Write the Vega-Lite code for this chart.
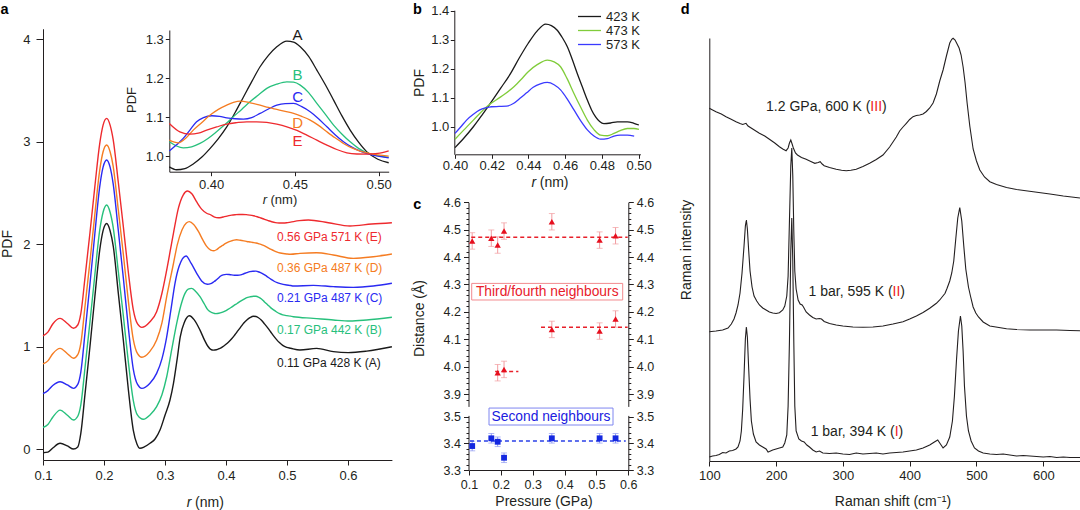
{
"$schema": "https://vega.github.io/schema/vega-lite/v6.json",
"width": 1080, "height": 510, "padding": 0, "autosize": {"type": "none"},
"background": "white",
"config": {
  "font": "Liberation Sans",
  "view": {"stroke": null},
  "axis": {"grid": false, "labelFont": "Liberation Sans", "labelFontSize": 13, "labelColor": "#231f20", "domainColor": "#231f20", "tickColor": "#231f20", "labelFlush": false, "labelOverlap": false, "labelBound": false, "domainWidth": 1, "tickWidth": 1}
},
"datasets": {
  "pdf": [
    {"s":"A","r":0.100,"g":-0.036},{"s":"A","r":0.108,"g":-0.03},{"s":"A","r":0.116,"g":0.01},{"s":"A","r":0.128,"g":0.056},{"s":"A","r":0.140,"g":0.03},{"s":"A","r":0.150,"g":0.0},{"s":"A","r":0.157,"g":0.02},{"s":"A","r":0.162,"g":0.153},{"s":"A","r":0.169,"g":0.543},{"s":"A","r":0.177,"g":1.0},{"s":"A","r":0.185,"g":1.486},{"s":"A","r":0.193,"g":1.94},{"s":"A","r":0.1985,"g":2.13},{"s":"A","r":0.2044,"g":2.2},{"s":"A","r":0.210,"g":2.13},{"s":"A","r":0.2153,"g":1.974},{"s":"A","r":0.2235,"g":1.519},{"s":"A","r":0.2317,"g":1.063},{"s":"A","r":0.240,"g":0.576},{"s":"A","r":0.248,"g":0.185},{"s":"A","r":0.254,"g":0.05},{"s":"A","r":0.259,"g":0.007},{"s":"A","r":0.266,"g":0.02},{"s":"A","r":0.2754,"g":0.056},{"s":"A","r":0.284,"g":0.10},{"s":"A","r":0.2918,"g":0.185},{"s":"A","r":0.300,"g":0.33},{"s":"A","r":0.3082,"g":0.478},{"s":"A","r":0.3139,"g":0.64},{"s":"A","r":0.320,"g":0.88},{"s":"A","r":0.325,"g":1.095},{"s":"A","r":0.332,"g":1.24},{"s":"A","r":0.340,"g":1.30},{"s":"A","r":0.348,"g":1.26},{"s":"A","r":0.3574,"g":1.16},{"s":"A","r":0.365,"g":1.06},{"s":"A","r":0.370,"g":1.005},
    {"s":"A","r":0.375,"g":0.9725},{"s":"A","r":0.3793,"g":0.965},{"s":"A","r":0.3843,"g":0.968},{"s":"A","r":0.3893,"g":0.98},{"s":"A","r":0.3943,"g":0.997},{"s":"A","r":0.3994,"g":1.02},{"s":"A","r":0.4043,"g":1.045},{"s":"A","r":0.4093,"g":1.075},{"s":"A","r":0.4143,"g":1.112},{"s":"A","r":0.4193,"g":1.152},{"s":"A","r":0.4243,"g":1.192},{"s":"A","r":0.4292,"g":1.2296},{"s":"A","r":0.4342,"g":1.259},{"s":"A","r":0.4392,"g":1.281},{"s":"A","r":0.4452,"g":1.2956},{"s":"A","r":0.4492,"g":1.293},{"s":"A","r":0.4532,"g":1.281},{"s":"A","r":0.4582,"g":1.256},{"s":"A","r":0.4631,"g":1.221},{"s":"A","r":0.4681,"g":1.184},{"s":"A","r":0.4731,"g":1.144},{"s":"A","r":0.478,"g":1.104},{"s":"A","r":0.483,"g":1.067},{"s":"A","r":0.488,"g":1.036},{"s":"A","r":0.493,"g":1.011},{"s":"A","r":0.4995,"g":0.992},{"s":"A","r":0.506,"g":0.983},{"s":"A","r":0.5213,"g":0.966},{"s":"A","r":0.5486,"g":0.982},{"s":"A","r":0.576,"g":0.95},{"s":"A","r":0.6005,"g":0.94},{"s":"A","r":0.6306,"g":0.955},{"s":"A","r":0.672,"g":0.998},

    {"s":"B","r":0.100,"g":0.21},{"s":"B","r":0.108,"g":0.24},{"s":"B","r":0.116,"g":0.31},{"s":"B","r":0.128,"g":0.38},{"s":"B","r":0.140,"g":0.33},{"s":"B","r":0.150,"g":0.283},{"s":"B","r":0.157,"g":0.32},{"s":"B","r":0.162,"g":0.43},{"s":"B","r":0.169,"g":0.80},{"s":"B","r":0.177,"g":1.24},{"s":"B","r":0.185,"g":1.70},{"s":"B","r":0.193,"g":2.135},{"s":"B","r":0.1985,"g":2.31},{"s":"B","r":0.2044,"g":2.38},{"s":"B","r":0.210,"g":2.31},{"s":"B","r":0.215,"g":2.165},{"s":"B","r":0.2235,"g":1.73},{"s":"B","r":0.2317,"g":1.30},{"s":"B","r":0.240,"g":0.845},{"s":"B","r":0.248,"g":0.475},{"s":"B","r":0.255,"g":0.33},{"s":"B","r":0.2644,"g":0.29},{"s":"B","r":0.275,"g":0.33},{"s":"B","r":0.2863,"g":0.413},{"s":"B","r":0.295,"g":0.53},{"s":"B","r":0.3028,"g":0.705},{"s":"B","r":0.311,"g":0.97},{"s":"B","r":0.3192,"g":1.226},{"s":"B","r":0.326,"g":1.40},{"s":"B","r":0.3328,"g":1.519},{"s":"B","r":0.338,"g":1.56},{"s":"B","r":0.3437,"g":1.567},{"s":"B","r":0.350,"g":1.54},{"s":"B","r":0.3574,"g":1.486},{"s":"B","r":0.365,"g":1.41},{"s":"B","r":0.370,"g":1.36},
    {"s":"B","r":0.375,"g":1.337},{"s":"B","r":0.3793,"g":1.326},{"s":"B","r":0.3833,"g":1.3214},{"s":"B","r":0.3883,"g":1.324},{"s":"B","r":0.3933,"g":1.3326},{"s":"B","r":0.3983,"g":1.346},{"s":"B","r":0.4032,"g":1.3626},{"s":"B","r":0.4082,"g":1.381},{"s":"B","r":0.4132,"g":1.401},{"s":"B","r":0.4182,"g":1.42},{"s":"B","r":0.4232,"g":1.4397},{"s":"B","r":0.4282,"g":1.457},{"s":"B","r":0.4332,"g":1.474},{"s":"B","r":0.4392,"g":1.485},{"s":"B","r":0.4452,"g":1.491},{"s":"B","r":0.4492,"g":1.490},{"s":"B","r":0.4532,"g":1.4825},{"s":"B","r":0.4582,"g":1.463},{"s":"B","r":0.4631,"g":1.4354},{"s":"B","r":0.4681,"g":1.408},{"s":"B","r":0.4731,"g":1.3797},{"s":"B","r":0.478,"g":1.357},{"s":"B","r":0.483,"g":1.3368},{"s":"B","r":0.488,"g":1.32},{"s":"B","r":0.493,"g":1.3086},{"s":"B","r":0.4995,"g":1.301},{"s":"B","r":0.506,"g":1.2966},{"s":"B","r":0.5104,"g":1.29},{"s":"B","r":0.5432,"g":1.275},{"s":"B","r":0.576,"g":1.259},{"s":"B","r":0.6033,"g":1.249},{"s":"B","r":0.6306,"g":1.259},{"s":"B","r":0.672,"g":1.285},

    {"s":"C","r":0.100,"g":0.54},{"s":"C","r":0.108,"g":0.57},{"s":"C","r":0.116,"g":0.62},{"s":"C","r":0.128,"g":0.657},{"s":"C","r":0.140,"g":0.625},{"s":"C","r":0.150,"g":0.592},{"s":"C","r":0.157,"g":0.63},{"s":"C","r":0.162,"g":0.75},{"s":"C","r":0.169,"g":1.14},{"s":"C","r":0.177,"g":1.61},{"s":"C","r":0.185,"g":2.10},{"s":"C","r":0.193,"g":2.56},{"s":"C","r":0.1985,"g":2.75},{"s":"C","r":0.2044,"g":2.82},{"s":"C","r":0.210,"g":2.75},{"s":"C","r":0.215,"g":2.59},{"s":"C","r":0.2235,"g":2.13},{"s":"C","r":0.2317,"g":1.67},{"s":"C","r":0.240,"g":1.18},{"s":"C","r":0.248,"g":0.78},{"s":"C","r":0.255,"g":0.63},{"s":"C","r":0.262,"g":0.592},{"s":"C","r":0.275,"g":0.64},{"s":"C","r":0.2863,"g":0.738},{"s":"C","r":0.295,"g":0.88},{"s":"C","r":0.3028,"g":1.095},{"s":"C","r":0.310,"g":1.37},{"s":"C","r":0.3164,"g":1.617},{"s":"C","r":0.323,"g":1.78},{"s":"C","r":0.3345,"g":1.883},{"s":"C","r":0.343,"g":1.81},{"s":"C","r":0.352,"g":1.714},{"s":"C","r":0.360,"g":1.64},{"s":"C","r":0.3694,"g":1.607},
    {"s":"C","r":0.375,"g":1.6129},{"s":"C","r":0.3793,"g":1.629},{"s":"C","r":0.3833,"g":1.6455},{"s":"C","r":0.3873,"g":1.667},{"s":"C","r":0.3913,"g":1.6882},{"s":"C","r":0.3954,"g":1.699},{"s":"C","r":0.4004,"g":1.7037},{"s":"C","r":0.405,"g":1.702},{"s":"C","r":0.4093,"g":1.6985},{"s":"C","r":0.4143,"g":1.696},{"s":"C","r":0.4193,"g":1.6951},{"s":"C","r":0.4242,"g":1.699},{"s":"C","r":0.4292,"g":1.7097},{"s":"C","r":0.4342,"g":1.721},{"s":"C","r":0.4392,"g":1.731},{"s":"C","r":0.4442,"g":1.735},{"s":"C","r":0.4492,"g":1.7354},{"s":"C","r":0.4541,"g":1.727},{"s":"C","r":0.4591,"g":1.714},{"s":"C","r":0.4641,"g":1.696},{"s":"C","r":0.4691,"g":1.6753},{"s":"C","r":0.474,"g":1.655},{"s":"C","r":0.479,"g":1.6368},{"s":"C","r":0.484,"g":1.623},{"s":"C","r":0.489,"g":1.6129},{"s":"C","r":0.4995,"g":1.60},{"s":"C","r":0.506,"g":1.5957},{"s":"C","r":0.5104,"g":1.59},{"s":"C","r":0.5432,"g":1.597},{"s":"C","r":0.576,"g":1.584},{"s":"C","r":0.6087,"g":1.577},{"s":"C","r":0.6415,"g":1.59},{"s":"C","r":0.672,"g":1.617},

    {"s":"D","r":0.100,"g":0.83},{"s":"D","r":0.108,"g":0.86},{"s":"D","r":0.116,"g":0.93},{"s":"D","r":0.128,"g":0.982},{"s":"D","r":0.140,"g":0.93},{"s":"D","r":0.150,"g":0.885},{"s":"D","r":0.157,"g":0.92},{"s":"D","r":0.162,"g":1.03},{"s":"D","r":0.169,"g":1.40},{"s":"D","r":0.177,"g":1.83},{"s":"D","r":0.185,"g":2.29},{"s":"D","r":0.193,"g":2.72},{"s":"D","r":0.1985,"g":2.90},{"s":"D","r":0.2044,"g":2.966},{"s":"D","r":0.210,"g":2.90},{"s":"D","r":0.215,"g":2.76},{"s":"D","r":0.2235,"g":2.33},{"s":"D","r":0.2317,"g":1.90},{"s":"D","r":0.240,"g":1.44},{"s":"D","r":0.248,"g":1.07},{"s":"D","r":0.255,"g":0.93},{"s":"D","r":0.262,"g":0.895},{"s":"D","r":0.275,"g":0.95},{"s":"D","r":0.2863,"g":1.063},{"s":"D","r":0.295,"g":1.23},{"s":"D","r":0.3028,"g":1.486},{"s":"D","r":0.3139,"g":1.81},{"s":"D","r":0.320,"g":1.99},{"s":"D","r":0.328,"g":2.14},{"s":"D","r":0.335,"g":2.205},{"s":"D","r":0.340,"g":2.218},{"s":"D","r":0.347,"g":2.19},{"s":"D","r":0.355,"g":2.12},{"s":"D","r":0.362,"g":2.04},{"s":"D","r":0.368,"g":1.98},
    {"s":"D","r":0.375,"g":1.9411},{"s":"D","r":0.3803,"g":1.9343},{"s":"D","r":0.3848,"g":1.946},{"s":"D","r":0.3893,"g":1.9668},{"s":"D","r":0.3943,"g":1.986},{"s":"D","r":0.3994,"g":2.0054},{"s":"D","r":0.4043,"g":2.02},{"s":"D","r":0.4093,"g":2.031},{"s":"D","r":0.4133,"g":2.038},{"s":"D","r":0.4173,"g":2.0414},{"s":"D","r":0.4233,"g":2.037},{"s":"D","r":0.4292,"g":2.031},{"s":"D","r":0.4342,"g":2.025},{"s":"D","r":0.4392,"g":2.02},{"s":"D","r":0.4442,"g":2.015},{"s":"D","r":0.4492,"g":2.0097},{"s":"D","r":0.4541,"g":2.002},{"s":"D","r":0.4591,"g":1.9925},{"s":"D","r":0.4641,"g":1.979},{"s":"D","r":0.4691,"g":1.9625},{"s":"D","r":0.474,"g":1.947},{"s":"D","r":0.479,"g":1.9326},{"s":"D","r":0.484,"g":1.921},{"s":"D","r":0.489,"g":1.9129},{"s":"D","r":0.4995,"g":1.903},{"s":"D","r":0.506,"g":1.90},{"s":"D","r":0.5213,"g":1.909},{"s":"D","r":0.5486,"g":1.915},{"s":"D","r":0.576,"g":1.893},{"s":"D","r":0.6087,"g":1.86},{"s":"D","r":0.6415,"g":1.876},{"s":"D","r":0.672,"g":1.902},

    {"s":"E","r":0.100,"g":1.105},{"s":"E","r":0.108,"g":1.14},{"s":"E","r":0.116,"g":1.22},{"s":"E","r":0.128,"g":1.275},{"s":"E","r":0.140,"g":1.225},{"s":"E","r":0.150,"g":1.178},{"s":"E","r":0.157,"g":1.21},{"s":"E","r":0.162,"g":1.32},{"s":"E","r":0.169,"g":1.68},{"s":"E","r":0.177,"g":2.11},{"s":"E","r":0.185,"g":2.56},{"s":"E","r":0.193,"g":2.98},{"s":"E","r":0.1985,"g":3.16},{"s":"E","r":0.2044,"g":3.226},{"s":"E","r":0.210,"g":3.16},{"s":"E","r":0.215,"g":3.02},{"s":"E","r":0.2235,"g":2.60},{"s":"E","r":0.2317,"g":2.17},{"s":"E","r":0.240,"g":1.72},{"s":"E","r":0.248,"g":1.36},{"s":"E","r":0.255,"g":1.22},{"s":"E","r":0.262,"g":1.187},{"s":"E","r":0.275,"g":1.24},{"s":"E","r":0.2863,"g":1.34},{"s":"E","r":0.295,"g":1.52},{"s":"E","r":0.3028,"g":1.746},{"s":"E","r":0.3137,"g":2.10},{"s":"E","r":0.322,"g":2.35},{"s":"E","r":0.330,"g":2.48},{"s":"E","r":0.337,"g":2.517},{"s":"E","r":0.344,"g":2.49},{"s":"E","r":0.352,"g":2.41},{"s":"E","r":0.360,"g":2.34},{"s":"E","r":0.3683,"g":2.30},
    {"s":"E","r":0.375,"g":2.284},{"s":"E","r":0.3813,"g":2.2625},{"s":"E","r":0.3873,"g":2.2566},{"s":"E","r":0.3923,"g":2.259},{"s":"E","r":0.3973,"g":2.2668},{"s":"E","r":0.4033,"g":2.275},{"s":"E","r":0.4093,"g":2.2823},{"s":"E","r":0.4153,"g":2.286},{"s":"E","r":0.4212,"g":2.2882},{"s":"E","r":0.4272,"g":2.288},{"s":"E","r":0.4332,"g":2.2866},{"s":"E","r":0.4392,"g":2.282},{"s":"E","r":0.4452,"g":2.2753},{"s":"E","r":0.4512,"g":2.266},{"s":"E","r":0.4571,"g":2.254},{"s":"E","r":0.4631,"g":2.241},{"s":"E","r":0.4691,"g":2.2283},{"s":"E","r":0.475,"g":2.217},{"s":"E","r":0.481,"g":2.2086},{"s":"E","r":0.487,"g":2.2055},{"s":"E","r":0.493,"g":2.2051},{"s":"E","r":0.4995,"g":2.207},{"s":"E","r":0.506,"g":2.2136},{"s":"E","r":0.520,"g":2.228},{"s":"E","r":0.535,"g":2.234},{"s":"E","r":0.5678,"g":2.208},{"s":"E","r":0.6033,"g":2.176},{"s":"E","r":0.6388,"g":2.195},{"s":"E","r":0.672,"g":2.208}
  ],
  "pdfLab": [
    {"s":"E","t":"0.56 GPa 571 K (E)","r":0.4836,"g":2.07},
    {"s":"D","t":"0.36 GPa 487 K (D)","r":0.4836,"g":1.77},
    {"s":"C","t":"0.21 GPa 487 K (C)","r":0.4836,"g":1.47},
    {"s":"B","t":"0.17 GPa 442 K (B)","r":0.4836,"g":1.16},
    {"s":"A","t":"0.11 GPa 428 K (A)","r":0.4836,"g":0.84}
  ],
  "inset": [
    {"s":"A","r":0.375,"g":0.9725},{"s":"A","r":0.3793,"g":0.965},{"s":"A","r":0.3843,"g":0.968},{"s":"A","r":0.3893,"g":0.98},{"s":"A","r":0.3943,"g":0.997},{"s":"A","r":0.3994,"g":1.02},{"s":"A","r":0.4043,"g":1.045},{"s":"A","r":0.4093,"g":1.075},{"s":"A","r":0.4143,"g":1.112},{"s":"A","r":0.4193,"g":1.152},{"s":"A","r":0.4243,"g":1.192},{"s":"A","r":0.4292,"g":1.2296},{"s":"A","r":0.4342,"g":1.259},{"s":"A","r":0.4392,"g":1.281},{"s":"A","r":0.4452,"g":1.2956},{"s":"A","r":0.4492,"g":1.293},{"s":"A","r":0.4532,"g":1.281},{"s":"A","r":0.4582,"g":1.256},{"s":"A","r":0.4631,"g":1.221},{"s":"A","r":0.4681,"g":1.184},{"s":"A","r":0.4731,"g":1.144},{"s":"A","r":0.478,"g":1.104},{"s":"A","r":0.483,"g":1.067},{"s":"A","r":0.488,"g":1.036},{"s":"A","r":0.493,"g":1.011},{"s":"A","r":0.4995,"g":0.992},{"s":"A","r":0.506,"g":0.983},
    {"s":"B","r":0.375,"g":1.0368},{"s":"B","r":0.3793,"g":1.026},{"s":"B","r":0.3833,"g":1.0214},{"s":"B","r":0.3883,"g":1.024},{"s":"B","r":0.3933,"g":1.0326},{"s":"B","r":0.3983,"g":1.046},{"s":"B","r":0.4032,"g":1.0626},{"s":"B","r":0.4082,"g":1.081},{"s":"B","r":0.4132,"g":1.101},{"s":"B","r":0.4182,"g":1.12},{"s":"B","r":0.4232,"g":1.1397},{"s":"B","r":0.4282,"g":1.157},{"s":"B","r":0.4332,"g":1.174},{"s":"B","r":0.4392,"g":1.185},{"s":"B","r":0.4452,"g":1.191},{"s":"B","r":0.4492,"g":1.190},{"s":"B","r":0.4532,"g":1.1825},{"s":"B","r":0.4582,"g":1.163},{"s":"B","r":0.4631,"g":1.1354},{"s":"B","r":0.4681,"g":1.108},{"s":"B","r":0.4731,"g":1.0797},{"s":"B","r":0.478,"g":1.057},{"s":"B","r":0.483,"g":1.0368},{"s":"B","r":0.488,"g":1.02},{"s":"B","r":0.493,"g":1.0086},{"s":"B","r":0.4995,"g":1.001},{"s":"B","r":0.506,"g":0.9966},
    {"s":"C","r":0.375,"g":1.0129},{"s":"C","r":0.3793,"g":1.029},{"s":"C","r":0.3833,"g":1.0455},{"s":"C","r":0.3873,"g":1.067},{"s":"C","r":0.3913,"g":1.0882},{"s":"C","r":0.3954,"g":1.099},{"s":"C","r":0.4004,"g":1.1037},{"s":"C","r":0.405,"g":1.102},{"s":"C","r":0.4093,"g":1.0985},{"s":"C","r":0.4143,"g":1.096},{"s":"C","r":0.4193,"g":1.0951},{"s":"C","r":0.4242,"g":1.099},{"s":"C","r":0.4292,"g":1.1097},{"s":"C","r":0.4342,"g":1.121},{"s":"C","r":0.4392,"g":1.131},{"s":"C","r":0.4442,"g":1.135},{"s":"C","r":0.4492,"g":1.1354},{"s":"C","r":0.4541,"g":1.127},{"s":"C","r":0.4591,"g":1.114},{"s":"C","r":0.4641,"g":1.096},{"s":"C","r":0.4691,"g":1.0753},{"s":"C","r":0.474,"g":1.055},{"s":"C","r":0.479,"g":1.0368},{"s":"C","r":0.484,"g":1.023},{"s":"C","r":0.489,"g":1.0129},{"s":"C","r":0.4995,"g":1.0},{"s":"C","r":0.506,"g":0.9957},
    {"s":"D","r":0.375,"g":1.0411},{"s":"D","r":0.3803,"g":1.0343},{"s":"D","r":0.3848,"g":1.046},{"s":"D","r":0.3893,"g":1.0668},{"s":"D","r":0.3943,"g":1.086},{"s":"D","r":0.3994,"g":1.1054},{"s":"D","r":0.4043,"g":1.12},{"s":"D","r":0.4093,"g":1.131},{"s":"D","r":0.4133,"g":1.138},{"s":"D","r":0.4173,"g":1.1414},{"s":"D","r":0.4233,"g":1.137},{"s":"D","r":0.4292,"g":1.131},{"s":"D","r":0.4342,"g":1.125},{"s":"D","r":0.4392,"g":1.12},{"s":"D","r":0.4442,"g":1.115},{"s":"D","r":0.4492,"g":1.1097},{"s":"D","r":0.4541,"g":1.102},{"s":"D","r":0.4591,"g":1.0925},{"s":"D","r":0.4641,"g":1.079},{"s":"D","r":0.4691,"g":1.0625},{"s":"D","r":0.474,"g":1.047},{"s":"D","r":0.479,"g":1.0326},{"s":"D","r":0.484,"g":1.021},{"s":"D","r":0.489,"g":1.0129},{"s":"D","r":0.4995,"g":1.003},{"s":"D","r":0.506,"g":1.0},
    {"s":"E","r":0.375,"g":1.084},{"s":"E","r":0.3813,"g":1.0625},{"s":"E","r":0.3873,"g":1.0566},{"s":"E","r":0.3923,"g":1.059},{"s":"E","r":0.3973,"g":1.0668},{"s":"E","r":0.4033,"g":1.075},{"s":"E","r":0.4093,"g":1.0823},{"s":"E","r":0.4153,"g":1.086},{"s":"E","r":0.4212,"g":1.0882},{"s":"E","r":0.4272,"g":1.088},{"s":"E","r":0.4332,"g":1.0866},{"s":"E","r":0.4392,"g":1.082},{"s":"E","r":0.4452,"g":1.0753},{"s":"E","r":0.4512,"g":1.066},{"s":"E","r":0.4571,"g":1.054},{"s":"E","r":0.4631,"g":1.041},{"s":"E","r":0.4691,"g":1.0283},{"s":"E","r":0.475,"g":1.017},{"s":"E","r":0.481,"g":1.0086},{"s":"E","r":0.487,"g":1.0055},{"s":"E","r":0.493,"g":1.0051},{"s":"E","r":0.4995,"g":1.007},{"s":"E","r":0.506,"g":1.0136}
  ],
  "insetLab": [
    {"s":"A","r":0.4516,"g":1.311},{"s":"B","r":0.4516,"g":1.208},{"s":"C","r":0.4516,"g":1.152},{"s":"D","r":0.4516,"g":1.0857},{"s":"E","r":0.4516,"g":1.039}
  ],
  "pdfT": [
    {"T":"423 K","r":0.400,"g":0.928},{"T":"423 K","r":0.405,"g":0.962},{"T":"423 K","r":0.410,"g":1.0},{"T":"423 K","r":0.4149,"g":1.042},{"T":"423 K","r":0.4198,"g":1.086},{"T":"423 K","r":0.425,"g":1.134},{"T":"423 K","r":0.4303,"g":1.184},{"T":"423 K","r":0.435,"g":1.237},{"T":"423 K","r":0.4399,"g":1.288},{"T":"423 K","r":0.4447,"g":1.33},{"T":"423 K","r":0.4494,"g":1.354},{"T":"423 K","r":0.4525,"g":1.349},{"T":"423 K","r":0.4557,"g":1.333},{"T":"423 K","r":0.4585,"g":1.307},{"T":"423 K","r":0.4612,"g":1.276},{"T":"423 K","r":0.4639,"g":1.232},{"T":"423 K","r":0.4666,"g":1.184},{"T":"423 K","r":0.4694,"g":1.137},{"T":"423 K","r":0.4721,"g":1.092},{"T":"423 K","r":0.4744,"g":1.058},{"T":"423 K","r":0.4766,"g":1.034},{"T":"423 K","r":0.4788,"g":1.018},{"T":"423 K","r":0.4811,"g":1.011},{"T":"423 K","r":0.4848,"g":1.013},{"T":"423 K","r":0.4884,"g":1.017},{"T":"423 K","r":0.4939,"g":1.017},{"T":"423 K","r":0.4975,"g":1.012},{"T":"423 K","r":0.5002,"g":1.006},
    {"T":"473 K","r":0.400,"g":0.957},{"T":"473 K","r":0.405,"g":0.99},{"T":"473 K","r":0.410,"g":1.023},{"T":"473 K","r":0.4176,"g":1.071},{"T":"473 K","r":0.4249,"g":1.103},{"T":"473 K","r":0.4321,"g":1.138},{"T":"473 K","r":0.436,"g":1.163},{"T":"473 K","r":0.4399,"g":1.19},{"T":"473 K","r":0.445,"g":1.215},{"T":"473 K","r":0.4503,"g":1.23},{"T":"473 K","r":0.454,"g":1.224},{"T":"473 K","r":0.4575,"g":1.207},{"T":"473 K","r":0.461,"g":1.167},{"T":"473 K","r":0.4648,"g":1.115},{"T":"473 K","r":0.4685,"g":1.067},{"T":"473 K","r":0.4721,"g":1.023},{"T":"473 K","r":0.4757,"g":0.99},{"T":"473 K","r":0.4793,"g":0.971},{"T":"473 K","r":0.483,"g":0.969},{"T":"473 K","r":0.4866,"g":0.977},{"T":"473 K","r":0.49,"g":0.987},{"T":"473 K","r":0.4939,"g":0.994},{"T":"473 K","r":0.4975,"g":0.994},{"T":"473 K","r":0.5002,"g":0.991},
    {"T":"573 K","r":0.400,"g":0.977},{"T":"573 K","r":0.4032,"g":1.0},{"T":"573 K","r":0.4063,"g":1.023},{"T":"573 K","r":0.41,"g":1.043},{"T":"573 K","r":0.4135,"g":1.058},{"T":"573 K","r":0.4167,"g":1.065},{"T":"573 K","r":0.4199,"g":1.069},{"T":"573 K","r":0.424,"g":1.07},{"T":"573 K","r":0.4281,"g":1.071},{"T":"573 K","r":0.4318,"g":1.08},{"T":"573 K","r":0.4354,"g":1.098},{"T":"573 K","r":0.439,"g":1.117},{"T":"573 K","r":0.4426,"g":1.136},{"T":"573 K","r":0.4465,"g":1.148},{"T":"573 K","r":0.4503,"g":1.153},{"T":"573 K","r":0.454,"g":1.145},{"T":"573 K","r":0.4575,"g":1.127},{"T":"573 K","r":0.461,"g":1.097},{"T":"573 K","r":0.4648,"g":1.058},{"T":"573 K","r":0.4685,"g":1.02},{"T":"573 K","r":0.4721,"g":0.989},{"T":"573 K","r":0.4757,"g":0.968},{"T":"573 K","r":0.4793,"g":0.957},{"T":"573 K","r":0.483,"g":0.959},{"T":"573 K","r":0.4866,"g":0.968},{"T":"573 K","r":0.49,"g":0.971},{"T":"573 K","r":0.4939,"g":0.971},{"T":"573 K","r":0.4976,"g":0.968}
  ],
  "tri": [
    {"p":0.11,"d":4.459,"e":0.03},{"p":0.17,"d":4.469,"e":0.03},{"p":0.19,"d":4.444,"e":0.03},{"p":0.21,"d":4.495,"e":0.03},{"p":0.36,"d":4.529,"e":0.03},{"p":0.51,"d":4.462,"e":0.03},{"p":0.56,"d":4.478,"e":0.03},
    {"p":0.19,"d":3.978,"e":0.03},{"p":0.21,"d":3.99,"e":0.03},{"p":0.36,"d":4.136,"e":0.03},{"p":0.51,"d":4.13,"e":0.03},{"p":0.56,"d":4.174,"e":0.03}
  ],
  "sq": [
    {"p":0.11,"d":3.39,"e":0.018},{"p":0.17,"d":3.419,"e":0.018},{"p":0.19,"d":3.406,"e":0.018},{"p":0.21,"d":3.346,"e":0.018},{"p":0.36,"d":3.419,"e":0.018},{"p":0.51,"d":3.419,"e":0.018},{"p":0.56,"d":3.419,"e":0.018}
  ],
  "triFit": [
    {"p":0.107,"p2":0.598,"d":4.472},{"p":0.182,"p2":0.255,"d":3.982},{"p":0.326,"p2":0.598,"d":4.144}
  ],
  "sqFit": [
    {"p":0.103,"p2":0.592,"d":3.409}
  ],
  "raman": [
    {"s":"I","w":100,"i":4},{"s":"I","w":105,"i":5},{"s":"I","w":110,"i":5.5},{"s":"I","w":115,"i":6.5},{"s":"I","w":120,"i":8.5},{"s":"I","w":125,"i":8},{"s":"I","w":130,"i":10},{"s":"I","w":135,"i":10.5},{"s":"I","w":140,"i":12},{"s":"I","w":143,"i":14},{"s":"I","w":146,"i":20},{"s":"I","w":148,"i":30},{"s":"I","w":150,"i":52},{"s":"I","w":152,"i":85},{"s":"I","w":154,"i":122},{"s":"I","w":155.5,"i":134},{"s":"I","w":157,"i":124},{"s":"I","w":159,"i":92},{"s":"I","w":161,"i":62},{"s":"I","w":163,"i":40},{"s":"I","w":166,"i":27},{"s":"I","w":170,"i":19},{"s":"I","w":175,"i":16},{"s":"I","w":180,"i":14},{"s":"I","w":185,"i":12},{"s":"I","w":188,"i":9},{"s":"I","w":190,"i":9.5},{"s":"I","w":195,"i":11},{"s":"I","w":200,"i":12},{"s":"I","w":205,"i":13},{"s":"I","w":210,"i":14},{"s":"I","w":213,"i":18},{"s":"I","w":216,"i":26},{"s":"I","w":218,"i":55},{"s":"I","w":220,"i":120},{"s":"I","w":222,"i":210},{"s":"I","w":223.5,"i":243},{"s":"I","w":225,"i":200},{"s":"I","w":226.5,"i":120},{"s":"I","w":228,"i":55},{"s":"I","w":230,"i":30},{"s":"I","w":234,"i":22},{"s":"I","w":238,"i":20},{"s":"I","w":242,"i":19},{"s":"I","w":246,"i":16},{"s":"I","w":250,"i":14},{"s":"I","w":255,"i":11},{"s":"I","w":260,"i":9},{"s":"I","w":265,"i":10},{"s":"I","w":270,"i":8},{"s":"I","w":280,"i":7.5},{"s":"I","w":290,"i":8},{"s":"I","w":300,"i":7},{"s":"I","w":310,"i":6.5},{"s":"I","w":320,"i":8},{"s":"I","w":330,"i":7},{"s":"I","w":340,"i":7.5},{"s":"I","w":350,"i":8},{"s":"I","w":360,"i":7},{"s":"I","w":370,"i":8},{"s":"I","w":380,"i":8.5},{"s":"I","w":390,"i":9},{"s":"I","w":400,"i":10},{"s":"I","w":410,"i":11},{"s":"I","w":420,"i":13},{"s":"I","w":430,"i":16},{"s":"I","w":437,"i":19},{"s":"I","w":442,"i":21},{"s":"I","w":446,"i":17},{"s":"I","w":450,"i":13},{"s":"I","w":455,"i":16},{"s":"I","w":460,"i":24},{"s":"I","w":464,"i":40},{"s":"I","w":467,"i":65},{"s":"I","w":470,"i":100},{"s":"I","w":473,"i":130},{"s":"I","w":476,"i":145},{"s":"I","w":478,"i":135},{"s":"I","w":480,"i":110},{"s":"I","w":482,"i":75},{"s":"I","w":485,"i":45},{"s":"I","w":488,"i":30},{"s":"I","w":492,"i":20},{"s":"I","w":497,"i":13},{"s":"I","w":503,"i":10},{"s":"I","w":510,"i":8},{"s":"I","w":520,"i":7},{"s":"I","w":530,"i":6.5},{"s":"I","w":540,"i":7},{"s":"I","w":550,"i":6},{"s":"I","w":560,"i":5},{"s":"I","w":570,"i":5.5},{"s":"I","w":580,"i":5},{"s":"I","w":590,"i":4.5},{"s":"I","w":600,"i":4},{"s":"I","w":610,"i":4.5},{"s":"I","w":620,"i":3.5},{"s":"I","w":630,"i":4},{"s":"I","w":640,"i":3.5},{"s":"I","w":655,"i":3.5},

    {"s":"II","w":100,"i":129.3},{"s":"II","w":110,"i":130},{"s":"II","w":120,"i":131},{"s":"II","w":128,"i":133},{"s":"II","w":133,"i":137},{"s":"II","w":137,"i":142},{"s":"II","w":140,"i":148},{"s":"II","w":143,"i":156},{"s":"II","w":146,"i":168},{"s":"II","w":149,"i":188},{"s":"II","w":152,"i":215},{"s":"II","w":154,"i":235},{"s":"II","w":155.5,"i":241},{"s":"II","w":157,"i":232},{"s":"II","w":159,"i":210},{"s":"II","w":161,"i":190},{"s":"II","w":164,"i":174},{"s":"II","w":167,"i":165},{"s":"II","w":171,"i":160},{"s":"II","w":175,"i":156},{"s":"II","w":180,"i":153},{"s":"II","w":185,"i":151},{"s":"II","w":190,"i":149},{"s":"II","w":195,"i":148},{"s":"II","w":200,"i":147.5},{"s":"II","w":205,"i":148.3},{"s":"II","w":210,"i":151},{"s":"II","w":213,"i":155},{"s":"II","w":216,"i":165},{"s":"II","w":218,"i":185},{"s":"II","w":220,"i":240},{"s":"II","w":222,"i":295},{"s":"II","w":223.5,"i":313},{"s":"II","w":225,"i":285},{"s":"II","w":226.5,"i":230},{"s":"II","w":228,"i":190},{"s":"II","w":230,"i":172},{"s":"II","w":233,"i":161},{"s":"II","w":236,"i":157},{"s":"II","w":239,"i":156},{"s":"II","w":241,"i":154},{"s":"II","w":245,"i":149},{"s":"II","w":250,"i":146},{"s":"II","w":255,"i":143.5},{"s":"II","w":260,"i":142},{"s":"II","w":265,"i":142.5},{"s":"II","w":268,"i":142},{"s":"II","w":272,"i":139.5},{"s":"II","w":280,"i":137.5},{"s":"II","w":290,"i":136},{"s":"II","w":300,"i":135},{"s":"II","w":315,"i":134},{"s":"II","w":330,"i":133.7},{"s":"II","w":345,"i":134},{"s":"II","w":360,"i":135},{"s":"II","w":375,"i":137},{"s":"II","w":390,"i":139.3},{"s":"II","w":400,"i":142},{"s":"II","w":410,"i":145},{"s":"II","w":420,"i":148.5},{"s":"II","w":430,"i":152.7},{"s":"II","w":440,"i":157.7},{"s":"II","w":445,"i":161},{"s":"II","w":453,"i":167.7},{"s":"II","w":456,"i":172.7},{"s":"II","w":460,"i":180},{"s":"II","w":463,"i":188},{"s":"II","w":466,"i":200},{"s":"II","w":469,"i":222},{"s":"II","w":472,"i":243},{"s":"II","w":475,"i":253.3},{"s":"II","w":478,"i":240},{"s":"II","w":481,"i":215},{"s":"II","w":484,"i":192},{"s":"II","w":488,"i":174},{"s":"II","w":491,"i":165},{"s":"II","w":495,"i":154},{"s":"II","w":499,"i":148},{"s":"II","w":503,"i":144},{"s":"II","w":510,"i":139},{"s":"II","w":520,"i":135},{"s":"II","w":545,"i":132.3},{"s":"II","w":560,"i":131.5},{"s":"II","w":580,"i":131},{"s":"II","w":600,"i":131},{"s":"II","w":620,"i":131},{"s":"II","w":640,"i":130.5},{"s":"II","w":655,"i":130.3},

    {"s":"III","w":100,"i":352.7},{"s":"III","w":105,"i":351},{"s":"III","w":110,"i":349.3},{"s":"III","w":118,"i":347},{"s":"III","w":125,"i":344.3},{"s":"III","w":132,"i":342},{"s":"III","w":140,"i":339.3},{"s":"III","w":146,"i":337.5},{"s":"III","w":150,"i":336.5},{"s":"III","w":155,"i":337.7},{"s":"III","w":158,"i":335},{"s":"III","w":165,"i":332},{"s":"III","w":175,"i":327.7},{"s":"III","w":183,"i":325},{"s":"III","w":190,"i":321.7},{"s":"III","w":198,"i":318},{"s":"III","w":205,"i":314.3},{"s":"III","w":210,"i":312},{"s":"III","w":215,"i":310.3},{"s":"III","w":218,"i":313},{"s":"III","w":220,"i":318},{"s":"III","w":222,"i":321},{"s":"III","w":224,"i":317},{"s":"III","w":226,"i":312.7},{"s":"III","w":229,"i":308},{"s":"III","w":232,"i":306},{"s":"III","w":238,"i":303.5},{"s":"III","w":245,"i":301.7},{"s":"III","w":252,"i":299.5},{"s":"III","w":258,"i":297.7},{"s":"III","w":263,"i":298.5},{"s":"III","w":266,"i":299.3},{"s":"III","w":269,"i":297},{"s":"III","w":272,"i":295.3},{"s":"III","w":280,"i":293.5},{"s":"III","w":290,"i":291.7},{"s":"III","w":298,"i":290.7},{"s":"III","w":305,"i":290.3},{"s":"III","w":312,"i":290.8},{"s":"III","w":320,"i":291.7},{"s":"III","w":330,"i":294.5},{"s":"III","w":340,"i":297.7},{"s":"III","w":350,"i":301.5},{"s":"III","w":360,"i":306},{"s":"III","w":370,"i":314},{"s":"III","w":380,"i":324},{"s":"III","w":385,"i":330},{"s":"III","w":390,"i":334},{"s":"III","w":395,"i":337.7},{"s":"III","w":400,"i":341.5},{"s":"III","w":405,"i":344.3},{"s":"III","w":410,"i":345.5},{"s":"III","w":415,"i":346},{"s":"III","w":420,"i":347},{"s":"III","w":425,"i":349.5},{"s":"III","w":430,"i":353},{"s":"III","w":435,"i":358},{"s":"III","w":440,"i":367},{"s":"III","w":445,"i":380},{"s":"III","w":450,"i":391},{"s":"III","w":455,"i":405},{"s":"III","w":460,"i":418},{"s":"III","w":463,"i":421.7},{"s":"III","w":465,"i":422.7},{"s":"III","w":468,"i":421},{"s":"III","w":471,"i":417},{"s":"III","w":474,"i":413},{"s":"III","w":477,"i":406},{"s":"III","w":480,"i":394},{"s":"III","w":483,"i":378},{"s":"III","w":486,"i":358},{"s":"III","w":490,"i":335},{"s":"III","w":495,"i":312},{"s":"III","w":500,"i":300},{"s":"III","w":505,"i":291},{"s":"III","w":512,"i":284},{"s":"III","w":520,"i":279.3},{"s":"III","w":530,"i":276.5},{"s":"III","w":545,"i":273.5},{"s":"III","w":560,"i":271.5},{"s":"III","w":585,"i":269.3},{"s":"III","w":610,"i":267},{"s":"III","w":630,"i":265},{"s":"III","w":655,"i":263}
  ],
  "ramLab": [
    {"w":365.6,"i":354.3,"t":"1.2 GPa, 600 K (","n":"III"},
    {"w":393,"i":169.3,"t":"1 bar, 595 K (","n":"II"},
    {"w":390.4,"i":29.3,"t":"1 bar, 394 K (","n":"I"}
  ]
},
"layer": [
  {
    "data": {"values": [{}]}, "mark": {"type": "point", "opacity": 0},
    "encoding": {
      "x": {"datum": 0.3, "type": "quantitative", "scale": {"domain": [0.1, 0.672], "range": [43, 391.9], "nice": false, "zero": false},
            "axis": {"orient": "bottom", "offset": -50, "values": [0.1,0.2,0.3,0.4,0.5,0.6], "format": ".1f", "tickSize": 5, "labelPadding": 4, "title": null}},
      "y": {"datum": 1, "type": "quantitative", "scale": {"domain": [-0.107, 4.1], "range": [460, 28.75], "nice": false, "zero": false},
            "axis": {"orient": "left", "offset": -43, "values": [0,1,2,3,4], "format": "d", "tickSize": 7, "labelPadding": 6, "title": null}}
    }
  },
  {
    "layer": [
      {"data": {"name": "pdf"}, "mark": {"type": "line", "interpolate": "monotone", "strokeWidth": 1.4},
       "encoding": {
         "x": {"field": "r", "type": "quantitative", "scale": {"domain": [0.1, 0.672], "range": [43, 391.9], "nice": false, "zero": false}, "axis": null},
         "y": {"field": "g", "type": "quantitative", "scale": {"domain": [-0.107, 4.1], "range": [460, 28.75], "nice": false, "zero": false}, "axis": null},
         "color": {"field": "s", "type": "nominal", "scale": {"domain": ["A","B","C","D","E"], "range": ["#1a1a1a","#27c07c","#2a2af2","#f57c22","#ee2a2e"]}, "legend": null}
       }},
      {"data": {"name": "pdfLab"}, "mark": {"type": "text", "align": "left", "baseline": "middle", "fontSize": 12},
       "encoding": {"x": {"field": "r", "type": "quantitative", "axis": null}, "y": {"field": "g", "type": "quantitative", "axis": null},
                    "color": {"field": "s", "type": "nominal", "legend": null}, "text": {"field": "t"}}},
      {"data": {"values": [{}]}, "mark": {"type": "text", "angle": 270, "fontSize": 14, "align": "center", "baseline": "middle", "color": "#231f20"},
       "encoding": {"x": {"datum": 0.0426, "axis": null}, "y": {"datum": 2.0, "axis": null}, "text": {"value": "PDF"}}},
      {"data": {"values": [{}]}, "mark": {"type": "text", "fontSize": 14, "fontStyle": "italic", "align": "right", "baseline": "middle", "color": "#231f20"},
       "encoding": {"x": {"datum": 0.3434, "axis": null}, "y": {"datum": -0.5265, "axis": null}, "text": {"value": "r"}}},
      {"data": {"values": [{}]}, "mark": {"type": "text", "fontSize": 14, "align": "left", "baseline": "middle", "dx": 3.6, "color": "#231f20"},
       "encoding": {"x": {"datum": 0.3434, "axis": null}, "y": {"datum": -0.5265, "axis": null}, "text": {"value": "(nm)"}}},
      {"data": {"values": [{}]}, "mark": {"type": "text", "fontSize": 14.5, "fontWeight": "bold", "align": "left", "baseline": "alphabetic", "color": "#000000"},
       "encoding": {"x": {"datum": 0.0303, "axis": null}, "y": {"datum": 4.245, "axis": null}, "text": {"value": "a"}}}
    ]
  },
  {
    "data": {"values": [{}]}, "mark": {"type": "point", "opacity": 0},
    "encoding": {
      "x": {"datum": 0.45, "type": "quantitative", "scale": {"domain": [0.375, 0.506], "range": [169.3, 388.7], "nice": false, "zero": false},
            "axis": {"orient": "bottom", "offset": -338.3, "values": [0.4,0.45,0.5], "format": ".2f", "tickSize": 4, "labelPadding": 3, "title": null}},
      "y": {"datum": 1.1, "type": "quantitative", "scale": {"domain": [0.96, 1.324], "range": [171.7, 30], "nice": false, "zero": false},
            "axis": {"orient": "left", "offset": -169.3, "values": [1.0,1.1,1.2,1.3], "format": ".1f", "tickSize": 4, "labelPadding": 2, "title": null}}
    }
  },
  {
    "layer": [
      {"data": {"name": "inset"}, "mark": {"type": "line", "interpolate": "monotone", "strokeWidth": 1.3},
       "encoding": {
         "x": {"field": "r", "type": "quantitative", "scale": {"domain": [0.375, 0.506], "range": [169.3, 388.7], "nice": false, "zero": false}, "axis": null},
         "y": {"field": "g", "type": "quantitative", "scale": {"domain": [0.96, 1.324], "range": [171.7, 30], "nice": false, "zero": false}, "axis": null},
         "color": {"field": "s", "type": "nominal", "scale": {"domain": ["A","B","C","D","E"], "range": ["#1a1a1a","#27c07c","#2a2af2","#f57c22","#ee2a2e"]}, "legend": null}
       }},
      {"data": {"name": "insetLab"}, "mark": {"type": "text", "align": "center", "baseline": "middle", "fontSize": 15},
       "encoding": {"x": {"field": "r", "type": "quantitative", "axis": null}, "y": {"field": "g", "type": "quantitative", "axis": null},
                    "color": {"field": "s", "type": "nominal", "legend": null}, "text": {"field": "s"}}},
      {"data": {"values": [{}]}, "mark": {"type": "text", "angle": 270, "fontSize": 13, "align": "center", "baseline": "middle", "color": "#231f20"},
       "encoding": {"x": {"datum": 0.3527, "axis": null}, "y": {"datum": 1.1443, "axis": null}, "text": {"value": "PDF"}}},
      {"data": {"values": [{}]}, "mark": {"type": "text", "fontSize": 13, "fontStyle": "italic", "align": "right", "baseline": "middle", "color": "#231f20"},
       "encoding": {"x": {"datum": 0.4334, "axis": null}, "y": {"datum": 0.8873, "axis": null}, "text": {"value": "r"}}},
      {"data": {"values": [{}]}, "mark": {"type": "text", "fontSize": 13, "align": "left", "baseline": "middle", "dx": 3.4, "color": "#231f20"},
       "encoding": {"x": {"datum": 0.4334, "axis": null}, "y": {"datum": 0.8873, "axis": null}, "text": {"value": "(nm)"}}}
    ]
  },
  {
    "data": {"values": [{}]}, "mark": {"type": "point", "opacity": 0},
    "encoding": {
      "x": {"datum": 0.45, "type": "quantitative", "scale": {"domain": [0.4, 0.501], "range": [455, 640.4], "nice": false, "zero": false},
            "axis": {"orient": "bottom", "offset": -355.7, "values": [0.4,0.42,0.44,0.46,0.48,0.5], "format": ".2f", "tickSize": 4, "labelPadding": 1.5, "title": null}},
      "y": {"datum": 1.1, "type": "quantitative", "scale": {"domain": [0.905, 1.402], "range": [154.3, 10.2], "nice": false, "zero": false},
            "axis": {"orient": "left", "offset": -454.3, "values": [1.0,1.1,1.2,1.3,1.4], "format": ".1f", "tickSize": 4, "labelPadding": 1.5, "title": null}}
    }
  },
  {
    "layer": [
      {"data": {"name": "pdfT"}, "mark": {"type": "line", "interpolate": "monotone", "strokeWidth": 1.3},
       "encoding": {
         "x": {"field": "r", "type": "quantitative", "scale": {"domain": [0.4, 0.501], "range": [455, 640.4], "nice": false, "zero": false}, "axis": null},
         "y": {"field": "g", "type": "quantitative", "scale": {"domain": [0.905, 1.402], "range": [154.3, 10.2], "nice": false, "zero": false}, "axis": null},
         "color": {"field": "T", "type": "nominal", "scale": {"domain": ["423 K","473 K","573 K"], "range": ["#1a1a1a","#80cc3a","#3a3aff"]},
                   "legend": {"orient": "none", "legendX": 583, "legendY": 10, "title": null, "symbolType": "M-2.3,0H2.3", "symbolSize": 100, "symbolStrokeWidth": 1.3, "labelFontSize": 13, "labelColor": "#231f20", "labelOffset": 10, "rowPadding": 0, "padding": 0}}
       }},
      {"data": {"values": [{}]}, "mark": {"type": "text", "angle": 270, "fontSize": 14, "align": "center", "baseline": "middle", "color": "#231f20"},
       "encoding": {"x": {"datum": 0.3809, "axis": null}, "y": {"datum": 1.1509, "axis": null}, "text": {"value": "PDF"}}},
      {"data": {"values": [{}]}, "mark": {"type": "text", "fontSize": 14, "fontStyle": "italic", "align": "right", "baseline": "middle", "color": "#231f20"},
       "encoding": {"x": {"datum": 0.4442, "axis": null}, "y": {"datum": 0.8075, "axis": null}, "text": {"value": "r"}}},
      {"data": {"values": [{}]}, "mark": {"type": "text", "fontSize": 14, "align": "left", "baseline": "middle", "dx": 3.6, "color": "#231f20"},
       "encoding": {"x": {"datum": 0.4442, "axis": null}, "y": {"datum": 0.8075, "axis": null}, "text": {"value": "(nm)"}}},
      {"data": {"values": [{}]}, "mark": {"type": "text", "fontSize": 14.5, "fontWeight": "bold", "align": "left", "baseline": "alphabetic", "color": "#000000"},
       "encoding": {"x": {"datum": 0.3771, "axis": null}, "y": {"datum": 1.388, "axis": null}, "text": {"value": "b"}}}
    ]
  },
  {
    "data": {"values": [{}]}, "mark": {"type": "rule", "opacity": 0},
    "encoding": {"y": {"datum": 4.0, "scale": {"domain": [3.855, 4.6], "range": [406.4, 202.3], "nice": false, "zero": false},
                       "axis": {"orient": "left", "offset": -468.5, "values": [3.9,4.0,4.1,4.2,4.3,4.4,4.5,4.6], "format": ".1f", "tickSize": 5, "labelPadding": 3, "labelFontSize": 12.5, "title": null}}}
  },
  {
    "data": {"values": [{}]}, "mark": {"type": "rule", "opacity": 0},
    "encoding": {"y": {"datum": 4.0, "scale": {"domain": [3.855, 4.6], "range": [406.4, 202.3], "nice": false, "zero": false},
                       "axis": {"orient": "left", "offset": -468.5, "values": [3.88,3.92,3.94,3.96,3.98,4.02,4.04,4.06,4.08,4.12,4.14,4.16,4.18,4.22,4.24,4.26,4.28,4.32,4.34,4.36,4.38,4.42,4.44,4.46,4.48,4.52,4.54,4.56,4.58], "labels": false, "domain": false, "tickSize": 2.5, "title": null}}}
  },
  {
    "data": {"values": [{}]}, "mark": {"type": "rule", "opacity": 0},
    "encoding": {"y": {"datum": 4.0, "scale": {"domain": [3.855, 4.6], "range": [406.4, 202.3], "nice": false, "zero": false},
                       "axis": {"orient": "right", "offset": -451.7, "values": [3.9,4.0,4.1,4.2,4.3,4.4,4.5,4.6], "format": ".1f", "tickSize": 5, "labelPadding": 3, "labelFontSize": 12.5, "title": null}}}
  },
  {
    "data": {"values": [{}]}, "mark": {"type": "rule", "opacity": 0},
    "encoding": {"y": {"datum": 4.0, "scale": {"domain": [3.855, 4.6], "range": [406.4, 202.3], "nice": false, "zero": false},
                       "axis": {"orient": "right", "offset": -451.7, "values": [3.88,3.92,3.94,3.96,3.98,4.02,4.04,4.06,4.08,4.12,4.14,4.16,4.18,4.22,4.24,4.26,4.28,4.32,4.34,4.36,4.38,4.42,4.44,4.46,4.48,4.52,4.54,4.56,4.58], "labels": false, "domain": false, "tickSize": 2.5, "title": null}}}
  },
  {
    "layer": [
      {"data": {"name": "tri"}, "mark": {"type": "errorbar", "ticks": true, "size": 6, "thickness": 1, "color": "#f29ca0"},
       "encoding": {
         "x": {"field": "p", "type": "quantitative", "scale": {"domain": [0.1, 0.6], "range": [469, 628.3], "nice": false, "zero": false}, "axis": null},
         "y": {"field": "d", "type": "quantitative", "scale": {"domain": [3.855, 4.6], "range": [406.4, 202.3], "nice": false, "zero": false}, "axis": null},
         "yError": {"field": "e"}
       }},
      {"data": {"name": "triFit"}, "mark": {"type": "rule", "strokeDash": [4, 3], "strokeWidth": 1.5, "color": "#e8202a"},
       "encoding": {"x": {"field": "p", "type": "quantitative", "axis": null}, "x2": {"field": "p2"}, "y": {"field": "d", "type": "quantitative", "axis": null}}},
      {"data": {"name": "tri"}, "mark": {"type": "point", "shape": "triangle-up", "filled": true, "size": 40, "color": "#e60f1e", "opacity": 1},
       "encoding": {"x": {"field": "p", "type": "quantitative", "axis": null}, "y": {"field": "d", "type": "quantitative", "axis": null}}},
      {"data": {"values": [{}]}, "mark": {"type": "rect", "fill": "white", "stroke": "#f28a8e", "strokeWidth": 1},
       "encoding": {"x": {"datum": 0.1085, "axis": null}, "x2": {"datum": 0.5824}, "y": {"datum": 4.304, "axis": null}, "y2": {"datum": 4.2434}}},
      {"data": {"values": [{}]}, "mark": {"type": "text", "fontSize": 13.8, "align": "center", "baseline": "middle", "color": "#e8202a"},
       "encoding": {"x": {"datum": 0.3455, "axis": null}, "y": {"datum": 4.274, "axis": null}, "text": {"value": "Third/fourth neighbours"}}},
      {"data": {"values": [{}]}, "mark": {"type": "text", "angle": 270, "fontSize": 14, "align": "center", "baseline": "middle", "color": "#231f20"},
       "encoding": {"x": {"datum": -0.0538, "axis": null}, "y": {"datum": 4.1758, "axis": null}, "text": {"value": "Distance (Å)"}}},
      {"data": {"values": [{}]}, "mark": {"type": "text", "fontSize": 14.5, "fontWeight": "bold", "align": "left", "baseline": "alphabetic", "color": "#000000"},
       "encoding": {"x": {"datum": -0.0748, "axis": null}, "y": {"datum": 4.5773, "axis": null}, "text": {"value": "c"}}}
    ]
  },
  {
    "data": {"values": [{}]}, "mark": {"type": "point", "opacity": 0},
    "encoding": {
      "x": {"datum": 0.3, "type": "quantitative", "scale": {"domain": [0.1, 0.6], "range": [469, 628.3], "nice": false, "zero": false},
            "axis": {"orient": "bottom", "offset": -40, "values": [0.1,0.2,0.3,0.4,0.5,0.6], "format": ".1f", "tickSize": 5, "labelPadding": 3, "labelFontSize": 12.5, "title": null}},
      "y": {"datum": 3.4, "type": "quantitative", "scale": {"domain": [3.3, 3.505], "range": [470, 415.4], "nice": false, "zero": false},
            "axis": {"orient": "left", "offset": -468.5, "values": [3.3,3.4,3.5], "format": ".1f", "tickSize": 5, "labelPadding": 3, "labelFontSize": 12.5, "title": null}}
    }
  },
  {
    "data": {"values": [{}]}, "mark": {"type": "rule", "opacity": 0},
    "encoding": {"y": {"datum": 3.4, "scale": {"domain": [3.3, 3.505], "range": [470, 415.4], "nice": false, "zero": false},
                       "axis": {"orient": "left", "offset": -468.5, "values": [3.32,3.34,3.36,3.38,3.42,3.44,3.46,3.48], "labels": false, "domain": false, "tickSize": 2.5, "title": null}}}
  },
  {
    "data": {"values": [{}]}, "mark": {"type": "rule", "opacity": 0},
    "encoding": {"y": {"datum": 3.4, "scale": {"domain": [3.3, 3.505], "range": [470, 415.4], "nice": false, "zero": false},
                       "axis": {"orient": "right", "offset": -451.7, "values": [3.3,3.4,3.5], "format": ".1f", "tickSize": 5, "labelPadding": 3, "labelFontSize": 12.5, "title": null}}}
  },
  {
    "data": {"values": [{}]}, "mark": {"type": "rule", "opacity": 0},
    "encoding": {"y": {"datum": 3.4, "scale": {"domain": [3.3, 3.505], "range": [470, 415.4], "nice": false, "zero": false},
                       "axis": {"orient": "right", "offset": -451.7, "values": [3.32,3.34,3.36,3.38,3.42,3.44,3.46,3.48], "labels": false, "domain": false, "tickSize": 2.5, "title": null}}}
  },
  {
    "layer": [
      {"data": {"name": "sq"}, "mark": {"type": "errorbar", "ticks": true, "size": 6, "thickness": 1, "color": "#8f9af2"},
       "encoding": {
         "x": {"field": "p", "type": "quantitative", "scale": {"domain": [0.1, 0.6], "range": [469, 628.3], "nice": false, "zero": false}, "axis": null},
         "y": {"field": "d", "type": "quantitative", "scale": {"domain": [3.3, 3.505], "range": [470, 415.4], "nice": false, "zero": false}, "axis": null},
         "yError": {"field": "e"}
       }},
      {"data": {"name": "sqFit"}, "mark": {"type": "rule", "strokeDash": [4, 3], "strokeWidth": 1.5, "color": "#2a40e8"},
       "encoding": {"x": {"field": "p", "type": "quantitative", "axis": null}, "x2": {"field": "p2"}, "y": {"field": "d", "type": "quantitative", "axis": null}}},
      {"data": {"name": "sq"}, "mark": {"type": "point", "shape": "square", "filled": true, "size": 34, "color": "#1428e0", "opacity": 1},
       "encoding": {"x": {"field": "p", "type": "quantitative", "axis": null}, "y": {"field": "d", "type": "quantitative", "axis": null}}},
      {"data": {"values": [{}]}, "mark": {"type": "rect", "fill": "white", "stroke": "#7f86f0", "strokeWidth": 1},
       "encoding": {"x": {"datum": 0.1628, "axis": null}, "x2": {"datum": 0.552}, "y": {"datum": 3.5326, "axis": null}, "y2": {"datum": 3.4689}}},
      {"data": {"values": [{}]}, "mark": {"type": "text", "fontSize": 13.8, "align": "center", "baseline": "middle", "color": "#2020e0"},
       "encoding": {"x": {"datum": 0.3574, "axis": null}, "y": {"datum": 3.5008, "axis": null}, "text": {"value": "Second neighbours"}}},
      {"data": {"values": [{}]}, "mark": {"type": "text", "fontSize": 14, "align": "center", "baseline": "middle", "color": "#231f20"},
       "encoding": {"x": {"datum": 0.3354, "axis": null}, "y": {"datum": 3.181, "axis": null}, "text": {"value": "Pressure (GPa)"}}}
    ]
  },
  {
    "data": {"values": [{}]}, "mark": {"type": "point", "opacity": 0},
    "encoding": {
      "x": {"datum": 300, "type": "quantitative", "scale": {"domain": [100, 655], "range": [709.3, 1080], "nice": false, "zero": false},
            "axis": {"orient": "bottom", "offset": -49, "values": [100,200,300,400,500,600], "format": "d", "tickSize": 5, "labelPadding": 3, "title": null}},
      "y": {"datum": 200, "type": "quantitative", "scale": {"domain": [0, 423], "range": [461, 38], "nice": false, "zero": false},
            "axis": {"orient": "left", "offset": -709.3, "ticks": false, "labels": false, "title": null}}
    }
  },
  {
    "layer": [
      {"data": {"name": "raman"}, "mark": {"type": "line", "strokeWidth": 1.1, "color": "#231f20"},
       "encoding": {
         "x": {"field": "w", "type": "quantitative", "scale": {"domain": [100, 655], "range": [709.3, 1080], "nice": false, "zero": false}, "axis": null},
         "y": {"field": "i", "type": "quantitative", "scale": {"domain": [0, 423], "range": [461, 38], "nice": false, "zero": false}, "axis": null},
         "detail": {"field": "s"}
       }},
      {"data": {"name": "ramLab"}, "mark": {"type": "text", "align": "right", "baseline": "middle", "fontSize": 14, "color": "#231f20"},
       "encoding": {"x": {"field": "w", "type": "quantitative", "axis": null}, "y": {"field": "i", "type": "quantitative", "axis": null}, "text": {"value": ")"}}},
      {"data": {"name": "ramLab"}, "mark": {"type": "text", "align": "right", "baseline": "middle", "fontSize": 14, "dx": -4.66, "color": "#ee1c25"},
       "encoding": {"x": {"field": "w", "type": "quantitative", "axis": null}, "y": {"field": "i", "type": "quantitative", "axis": null}, "text": {"field": "n"}}},
      {"data": {"name": "ramLab"}, "transform": [{"filter": "datum.n == 'III'"}], "mark": {"type": "text", "align": "right", "baseline": "middle", "fontSize": 14, "dx": -16.33, "color": "#231f20"},
       "encoding": {"x": {"field": "w", "type": "quantitative", "axis": null}, "y": {"field": "i", "type": "quantitative", "axis": null}, "text": {"field": "t"}}},
      {"data": {"name": "ramLab"}, "transform": [{"filter": "datum.n == 'II'"}], "mark": {"type": "text", "align": "right", "baseline": "middle", "fontSize": 14, "dx": -12.44, "color": "#231f20"},
       "encoding": {"x": {"field": "w", "type": "quantitative", "axis": null}, "y": {"field": "i", "type": "quantitative", "axis": null}, "text": {"field": "t"}}},
      {"data": {"name": "ramLab"}, "transform": [{"filter": "datum.n == 'I'"}], "mark": {"type": "text", "align": "right", "baseline": "middle", "fontSize": 14, "dx": -8.55, "color": "#231f20"},
       "encoding": {"x": {"field": "w", "type": "quantitative", "axis": null}, "y": {"field": "i", "type": "quantitative", "axis": null}, "text": {"field": "t"}}},
      {"data": {"values": [{}]}, "mark": {"type": "text", "fontSize": 14, "align": "center", "baseline": "middle", "color": "#231f20"},
       "encoding": {"x": {"datum": 375, "axis": null}, "y": {"datum": -40.7, "axis": null}, "text": {"value": "Raman shift (cm⁻¹)"}}},
      {"data": {"values": [{}]}, "mark": {"type": "text", "angle": 270, "fontSize": 14, "align": "center", "baseline": "middle", "color": "#231f20"},
       "encoding": {"x": {"datum": 66.2, "axis": null}, "y": {"datum": 211, "axis": null}, "text": {"value": "Raman intensity"}}},
      {"data": {"values": [{}]}, "mark": {"type": "text", "fontSize": 14.5, "fontWeight": "bold", "align": "left", "baseline": "alphabetic", "color": "#000000"},
       "encoding": {"x": {"datum": 57.2, "axis": null}, "y": {"datum": 447.5, "axis": null}, "text": {"value": "d"}}}
    ]
  }
],
"resolve": {"scale": {"x": "independent", "y": "independent", "color": "independent"}, "axis": {"x": "independent", "y": "independent"}, "legend": {"color": "independent"}}
}
